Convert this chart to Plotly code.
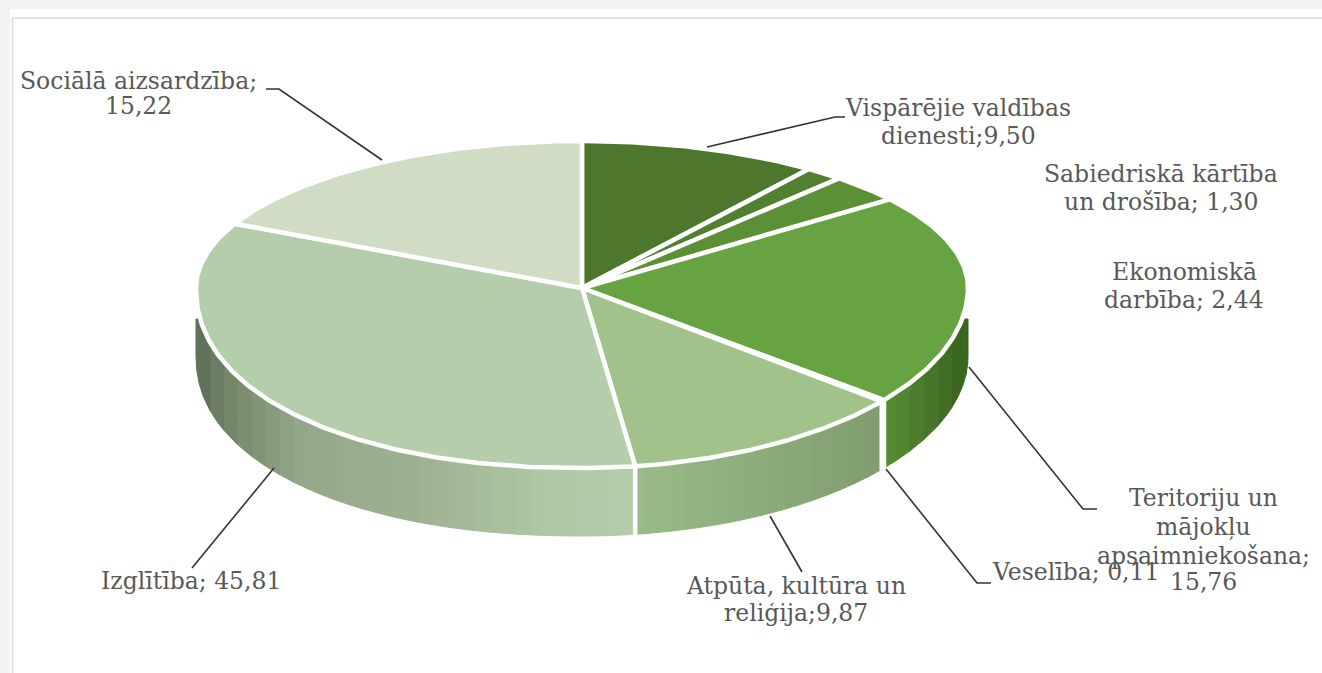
import math
import plotly.graph_objects as go

# Categories as printed in the chart, with the numbers printed beside them
categories = ["Vispārējie valdības dienesti", "Sabiedriskā kārtība un drošība", "Ekonomiskā darbība",
              "Teritoriju un mājokļu apsaimniekošana", "Veselība", "Atpūta, kultūra un reliģija",
              "Izglītība", "Sociālā aizsardzība"]
printed_values = ["9,50", "1,30", "2,44", "15,76", "0,11", "9,87", "45,81", "15,22"]

# Slice shares as they are drawn in the picture (they differ from the printed numbers)
drawn_shares = [10.0, 1.6, 3.1, 21.0, 0.15, 11.95, 34.4, 17.8]
top_colors = ["#4c772d", "#528030", "#5c9036", "#67a441", "#ffffff", "#a1c38b", "#b4ceab", "#d0dcc4"]

# Side-wall colour stops for slices that face the viewer: (x position, colour)
wall_stops = {
    3: [(889, (86, 140, 49)), (930, (72, 118, 42)), (967, (56, 98, 30))],
    5: [(637, (152, 187, 135)), (760, (140, 172, 124)), (885, (128, 156, 112))],
    6: [(197, (94, 112, 88)), (240, (122, 140, 110)), (300, (146, 168, 136)), (420, (158, 178, 146)),
        (540, (174, 198, 162)), (632, (180, 206, 171))],
}

# Label text lines: (text, centre x, centre y)
label_lines = [
    ("Sociālā aizsardzība;", 138, 81), ("15,22", 138, 106),
    ("Vispārējie valdības", 958, 108), ("dienesti;9,50", 958, 136),
    ("Sabiedriskā kārtība", 1161, 174), ("un drošība; 1,30", 1161, 202),
    ("Ekonomiskā", 1184, 272), ("darbība; 2,44", 1184, 300),
    ("Teritoriju un", 1203, 498), ("mājokļu", 1203, 527), ("apsaimniekošana;", 1203, 556), ("15,76", 1203, 582),
    ("Veselība; 0,11", 1076, 572),
    ("Atpūta, kultūra un", 796, 586), ("reliģija;9,87", 796, 613),
    ("Izglītība; 45,81", 191, 581),
]

# Leader lines, polyline vertices
leaders = [
    [(266, 89), (279, 89), (382, 160)],
    [(707, 147), (835, 117), (845, 117)],
    [(969, 367), (1083, 509), (1097, 509)],
    [(886, 469), (977, 583), (991, 583)],
    [(770, 516), (802, 572)],
    [(274, 468), (192, 568)],
]

CX, CY, RX, RY_BACK, RY_FRONT, H = 582, 288, 386, 147, 180, 68
WALL_TOP = 319  # the side wall only shows below this level at the disc's two extremes


def project(deg):
    """Tilted disc: the front half is deeper than the back half; the front-left quadrant bulges."""
    a = math.radians(deg)
    u, v = math.sin(a), math.cos(a)
    e = 2 / 2.15 if (u < 0 and v < 0) else 1
    x = math.copysign(abs(u) ** e, u)
    y = math.copysign(abs(v) ** e, v)
    return CX + RX * x, CY - (RY_BACK if v > 0 else RY_FRONT) * y


def lerp_color(stops, x):
    if x <= stops[0][0]:
        c = stops[0][1]
    elif x >= stops[-1][0]:
        c = stops[-1][1]
    else:
        for (x0, c0), (x1, c1) in zip(stops, stops[1:]):
            if x0 <= x <= x1:
                t = (x - x0) / (x1 - x0)
                c = tuple(c0[i] + (c1[i] - c0[i]) * t for i in range(3))
                break
    return "rgb(%d,%d,%d)" % tuple(round(v) for v in c)


fig = go.Figure()
total = sum(drawn_shares)
edges = [0]
for v in drawn_shares:
    edges.append(edges[-1] + v / total * 360)


def poly(xs, ys, fill, line, width):
    fig.add_trace(go.Scatter(x=xs, y=ys, mode="lines", fill="toself", fillcolor=fill,
                             line=dict(color=line, width=width), hoverinfo="skip", showlegend=False))


# Side walls: vertical bands, grouped by x position
BAND = 14
for i, stops in wall_stops.items():
    a0 = max(edges[i], 90)
    a1 = min(edges[i + 1], 270)
    n = int((a1 - a0) * 4)
    grid = [a0 + (a1 - a0) * k / n for k in range(n + 1)]
    group = [grid[0]]
    for g in grid[1:]:
        group.append(g)
        if int(project(g)[0] // BAND) != int(project(group[0])[0] // BAND) or g == grid[-1]:
            top = [project(a) for a in group]
            xs = [p[0] for p in top] + [p[0] for p in reversed(top)]
            ys = [max(p[1], WALL_TOP) for p in top] + [p[1] + H for p in reversed(top)]
            col = lerp_color(stops, sum(p[0] for p in top) / len(top))
            poly(xs + xs[:1], ys + ys[:1], col, col, 1)
            group = [g]

# Top face
for i, color in enumerate(top_colors):
    n = max(2, int((edges[i + 1] - edges[i]) * 2))
    pts = [project(edges[i] + (edges[i + 1] - edges[i]) * k / n) for k in range(n + 1)]
    xs = [CX] + [p[0] for p in pts] + [CX]
    ys = [CY] + [p[1] for p in pts] + [CY]
    poly(xs, ys, color, "#ffffff", 4.5)

# White gaps in the wall at slice edges
for e in edges:
    if 95 < e < 265:
        x, y = project(e)
        fig.add_trace(go.Scatter(x=[x, x], y=[y, y + H + 1], mode="lines",
                                 line=dict(color="#ffffff", width=4.5), hoverinfo="skip", showlegend=False))

# Leader lines
for pts in leaders:
    fig.add_trace(go.Scatter(x=[p[0] for p in pts], y=[p[1] for p in pts], mode="lines",
                             line=dict(color="#333333", width=1.6), hoverinfo="skip", showlegend=False))

annotations = [dict(x=x, y=y, text=t, showarrow=False, xanchor="center", yanchor="middle",
                    font=dict(family="DejaVu Serif", size=23.5, color="#595959"))
               for t, x, y in label_lines]

shapes = [
    dict(type="rect", layer="below", x0=10, x1=1322, y0=9, y1=673, fillcolor="#ffffff", line=dict(width=0)),
    dict(type="line", layer="below", x0=12.5, x1=12.5, y0=18, y1=673, line=dict(color="#e2e2e2", width=2)),
    dict(type="line", layer="below", x0=12, x1=1322, y0=18, y1=18, line=dict(color="#e2e2e2", width=2)),
]

fig.update_layout(
    width=1322, height=673, margin=dict(l=0, r=0, t=0, b=0),
    paper_bgcolor="#f2f2f2", plot_bgcolor="rgba(0,0,0,0)", showlegend=False,
    xaxis=dict(range=[0, 1322], visible=False, fixedrange=True),
    yaxis=dict(range=[673, 0], visible=False, fixedrange=True),
    annotations=annotations, shapes=shapes,
)
fig.write_html("out.html", config=dict(displayModeBar=False),
               post_script="document.body.style.margin='0';document.body.style.overflow='hidden';")
